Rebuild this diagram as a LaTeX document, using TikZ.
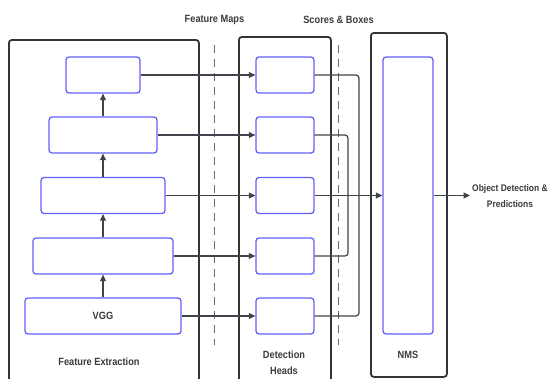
\documentclass[tikz,border=0pt]{standalone}
\usepackage{fontspec}
\setmainfont{Liberation Sans}[FakeStretch=0.88]
\usepackage{tikz}
\usetikzlibrary{arrows.meta,positioning,calc}
\definecolor{framegray}{RGB}{50,52,56}
\definecolor{linegray}{RGB}{64,68,74}
\definecolor{boxblue}{RGB}{100,96,250}
\definecolor{textgray}{RGB}{56,58,62}
\tikzset{
  frame/.style={rectangle, rounded corners=3pt, draw=framegray, line width=1.8pt, inner sep=0pt},
  layer/.style={rectangle, rounded corners=3pt, draw=boxblue, line width=1.3pt, fill=white,
                minimum height=36pt, inner sep=0pt, font=\bfseries\fontsize{10.5}{12}\selectfont, text=textgray},
  head/.style={layer, minimum width=58pt},
  arrow/.style={-{Triangle[length=6.5pt,width=6pt]}, line width=1.2pt, linegray},
  link/.style={line width=1.2pt, linegray, rounded corners=3pt},
  divider/.style={dashed, dash pattern=on 8pt off 6pt, linegray!80, line width=0.9pt},
  caption/.style={font=\bfseries\fontsize{10.5}{16}\selectfont, text=textgray, align=center},
}
\begin{document}
\begin{tikzpicture}[x=1pt, y=-1pt]
\clip (0,0) rectangle (552,378);
% containers
\node[frame, minimum width=190pt, minimum height=360pt, anchor=north west] (fex) at (8,39) {};
\node[frame, minimum width=92pt, minimum height=360pt, anchor=north west] (det) at (238,36) {};
\node[frame, minimum width=76pt, minimum height=344pt, anchor=north west] (nms) at (370,32) {};
% feature extraction layers
\node[layer, minimum width=74pt] (fe1) at (103,75) {};
\node[layer, minimum width=108pt] (fe2) at (103,135) {};
\node[layer, minimum width=124pt] (fe3) at (103,195.5) {};
\node[layer, minimum width=140pt] (fe4) at (103,256) {};
\node[layer, minimum width=156pt] (fe5) at (103,316) {VGG};
% detection heads
\foreach \n/\y in {1/75, 2/135, 3/195.5, 4/256, 5/316}
  \node[head] (dh\n) at (285,\y) {};
% NMS
\node[layer, minimum width=50pt, minimum height=277pt] (nmsbox) at (408,195.5) {};
\coordinate (j1) at (359,195.5);
\coordinate (j2) at (348,195.5);
\coordinate (out) at (470,195.5);
% labels
\node[caption] (fmaps) at (214.5,20) {Feature Maps};
\node[caption] (scores) at (338.5,20) {Scores \& Boxes};
\node[caption] (fexlbl) at (99,362) {Feature Extraction};
\node[caption] (detlbl) at (284,363) {Detection\\Heads};
\node[caption] (nmslbl) at (408,355) {NMS};
\node[caption, anchor=west, inner sep=1pt, font=\bfseries\fontsize{9.6}{16}\selectfont] (outlbl) at (471,196) {Object Detection \&\\Predictions};
% dividers
\draw[divider] (214.5,45) -- (214.5,345);
\draw[divider] (338.5,45) -- (338.5,345);
% connectors
\foreach \a/\b in {5/4, 4/3, 3/2, 2/1}
  \draw[arrow] (fe\a) -- (fe\b);
\foreach \n in {1,...,5}
  \draw[arrow] (fe\n.east) -- (dh\n.west);
\draw[link] (dh1.east) -| (j1);
\draw[link] (dh5.east) -| (j1);
\draw[link] (dh2.east) -| (j2);
\draw[link] (dh4.east) -| (j2);
\draw[arrow] (dh3) -- (nmsbox);
\draw[arrow] (nmsbox) -- (out);
\end{tikzpicture}
\end{document}
